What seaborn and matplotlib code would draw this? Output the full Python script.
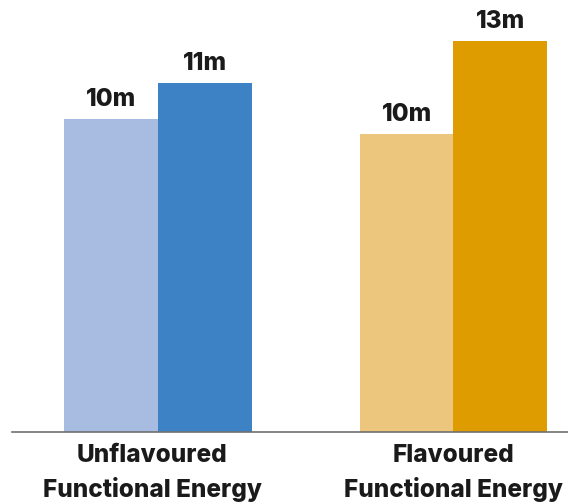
import seaborn as sns
import matplotlib.pyplot as plt
import matplotlib.transforms as mtransforms
import pandas as pd

# Values (heights), labels as printed
groups = ["Unflavoured\nFunctional Energy", "Flavoured\nFunctional Energy"]
series = ["Before", "After"]
before_vals = [10.4, 9.9]
after_vals = [11.6, 13.0]
before_labels = ["10m", "10m"]
after_labels = ["11m", "13m"]
colors_before = ["#A8BBE1", "#EDC67E"]
colors_after = ["#3D82C5", "#DF9C00"]

data = pd.DataFrame({
    "group": groups * 2,
    "series": [series[0]] * 2 + [series[1]] * 2,
    "value": before_vals + after_vals,
})

sns.set_style("white")
plt.rcParams["font.family"] = ["Inter", "DejaVu Sans"]

fig = plt.figure(figsize=(5.68, 5.04), dpi=100)
ax = fig.add_axes([12 / 568, 72 / 504, 556 / 568, 432 / 504])

sns.barplot(data=data, x="group", y="value", hue="series", order=groups,
            hue_order=series, width=0.633, ax=ax, legend=False,
            palette=["#999999", "#999999"], saturation=1, linewidth=0)

# recolour each bar (patches come ordered by hue, then category)
bar_colors = colors_before + colors_after
for patch, c in zip(ax.patches, bar_colors):
    patch.set_facecolor(c)
    patch.set_edgecolor("none")

for cont, labs in zip(ax.containers, [before_labels, after_labels]):
    ax.bar_label(cont, labels=labs, padding=6, fontsize=17.5,
                 fontweight="heavy", color="#1a1a1a")

ax.set_xlim(-0.494, 1.3875)
ax.set_ylim(0, 14.36)
ax.set_xlabel("")
ax.set_ylabel("")
ax.set_yticks([])
ax.tick_params(axis="x", length=0, pad=9, labelsize=17.5)
for lab in ax.get_xticklabels():
    lab.set_fontweight("heavy")
    lab.set_color("#1a1a1a")
    lab.set_linespacing(1.45)

# first label sits a little left of its group in the original
shift = mtransforms.ScaledTranslation(-6 / 100, 0, fig.dpi_scale_trans)
first = ax.get_xticklabels()[0]
first.set_transform(first.get_transform() + shift)

for s in ["left", "right", "top"]:
    ax.spines[s].set_visible(False)
ax.spines["bottom"].set_color("#707070")
ax.spines["bottom"].set_linewidth(1.2)

fig.savefig("out.png", dpi=100)
